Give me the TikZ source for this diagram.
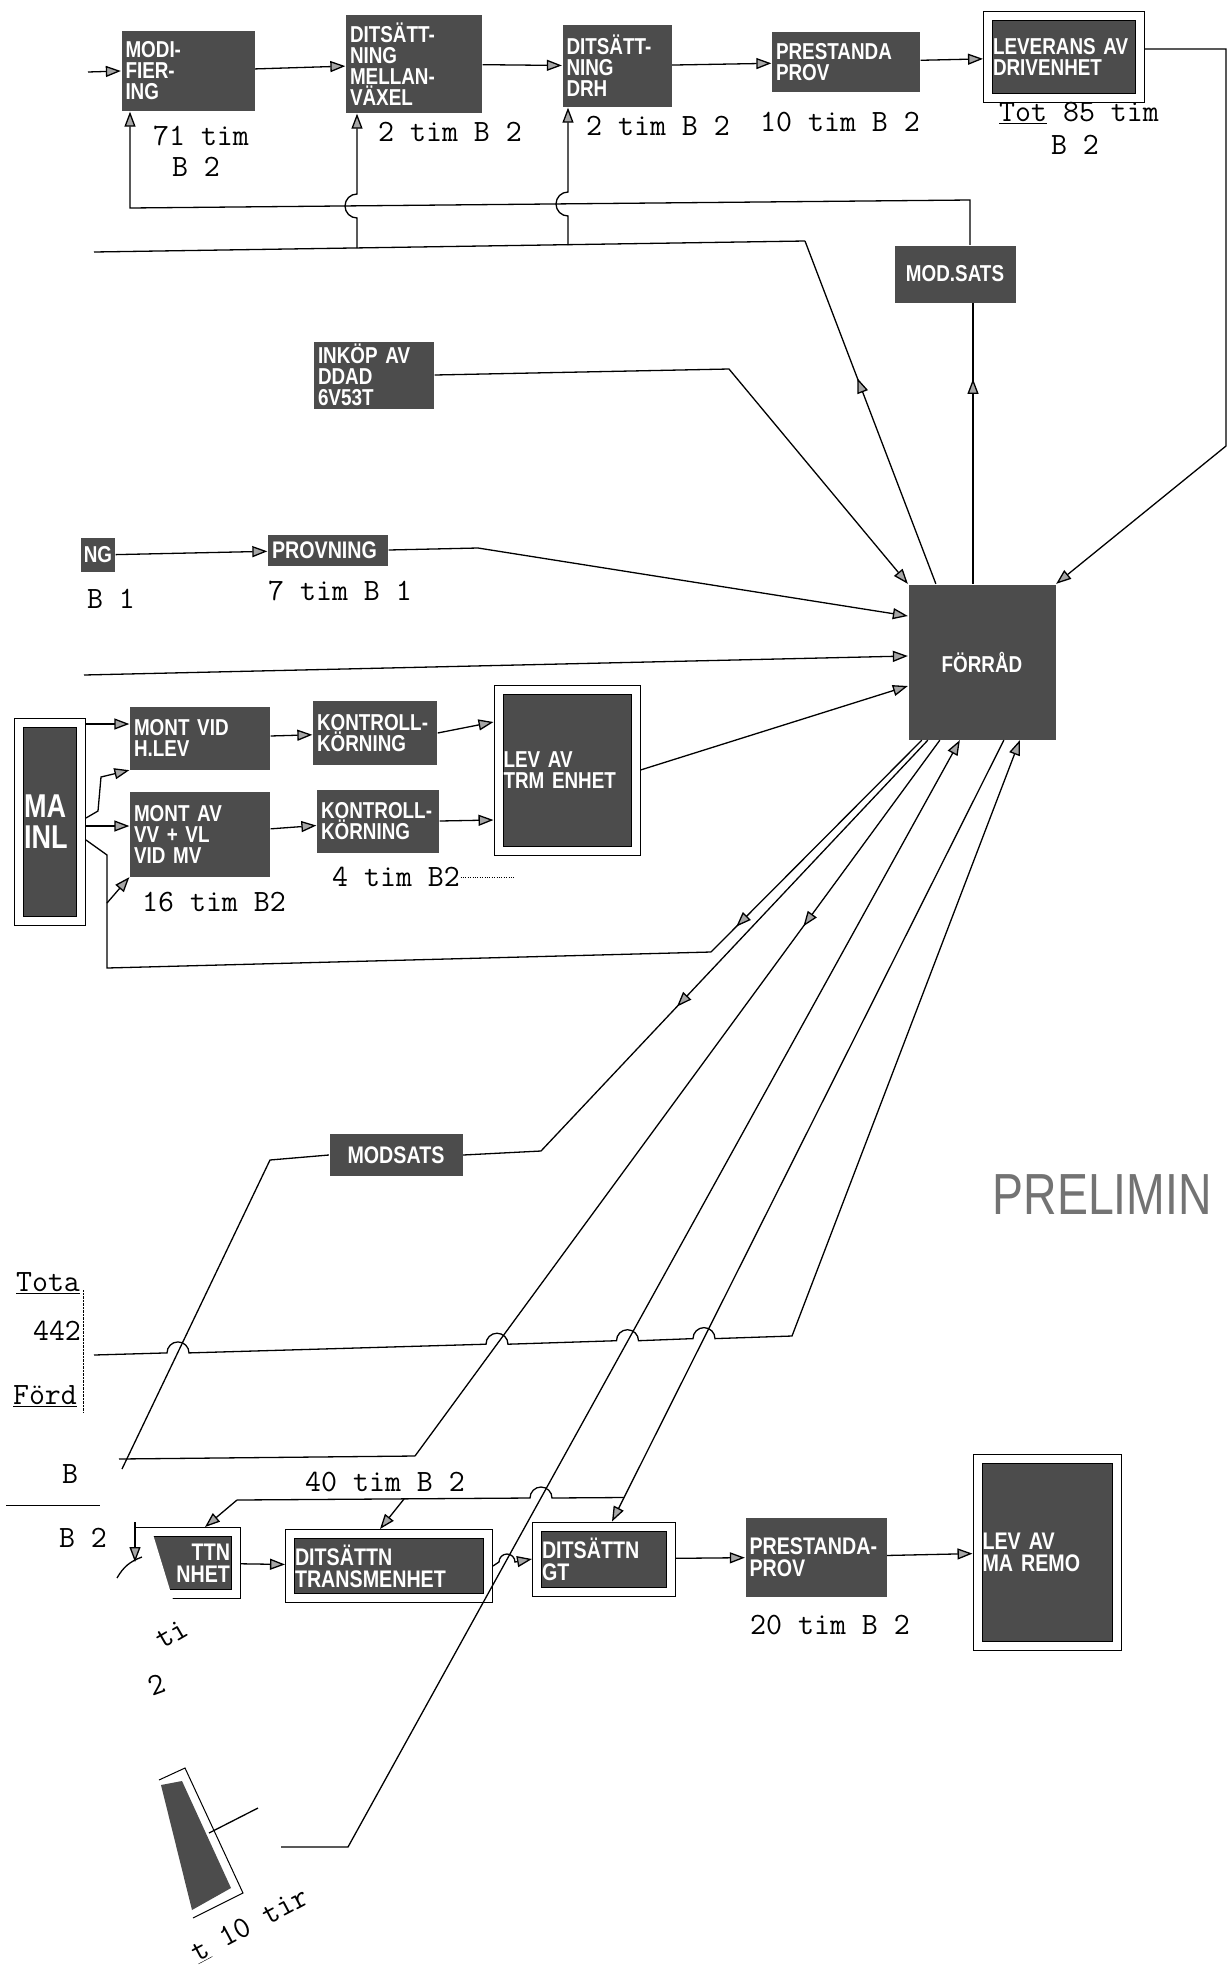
\documentclass[tikz,border=0pt]{standalone}
\usepackage{fontspec}
\newfontfamily\boxfont{Liberation Sans}[FakeStretch=0.82]
\newfontfamily\handfont{Liberation Sans}[FakeStretch=0.8]
\usetikzlibrary{arrows.meta,decorations.markings}

\begin{document}
\begin{tikzpicture}[x=1pt, y=-1pt, line width=1.3pt,
    box/.style={fill=black!70, text=white, align=left, inner sep=2pt,
      font=\boxfont\bfseries\fontsize{23}{21}\selectfont},
    nedre/.style={font=\boxfont\bfseries\fontsize{24}{22}\selectfont},
    ram/.style={box, draw=black, line width=1pt, double=white,
      double distance=8pt, outer sep=5pt},
    sz/.style 2 args={minimum width=#1pt, minimum height=#2pt, text width=#1pt-8pt},
    rsz/.style 2 args={minimum width=#1pt, minimum height=#2pt, text width=#1pt-10pt},
    pil/.style={-{Triangle[fill=black!35, length=15pt, width=11pt]}},
    mitt/.style={postaction={decorate}, decoration={markings,
      mark=at position #1 with {\arrow{Triangle[fill=black!35, length=15pt, width=11pt]}}}},
    tim/.style={inner sep=0pt, font=\ttfamily\fontsize{31}{34}\selectfont}]

  \useasboundingbox (0,0) rectangle (1230,1973);

  % övre raden
  \node[box, sz={133}{80}] (mod) at (188,71) {MODI-\\FIER-\\ING};
  \node[box, sz={136}{98}] (dmv) at (414,64) {DITSÄTT-\\NING\\MELLAN-\\VÄXEL};
  \node[box, sz={109}{82}] (drh) at (617,66) {DITSÄTT-\\NING\\DRH};
  \node[box, sz={148}{60}] (prp) at (846,62) {PRESTANDA\\PROV};
  \node[ram, rsz={152}{82}] (levd) at (1064,57) {LEVERANS AV\\DRIVENHET};

  \coordinate (inmod) at (88,72);
  \draw[pil] (inmod) -- (mod.west);
  \draw[pil] (mod) -- (dmv);
  \draw[pil] (dmv) -- (drh);
  \draw[pil] (drh) -- (prp);
  \draw[pil] (prp) -- (levd);

  \node[tim] (t71) at (201,136) {71 tim};
  \node[tim] (t71b) at (196,167) {B 2};
  \node[tim] (tdmv) at (450,132) {2 tim B 2};
  \node[tim] (tdrh) at (658,126) {2 tim B 2};
  \node[tim] (tprp) at (840,122) {10 tim B 2};
  \node[tim] (ttot) at (1079,113) {\underline{Tot} 85 tim};
  \node[tim] (ttotb) at (1075,145) {B 2};

  % förråd i mitten
  \node[box, sz={147}{155}, align=center] (forrad) at (982,662) {FÖRRÅD};
  \node[box, sz={121}{57}, align=center] (msats) at (955,274) {MOD.SATS};
  \node[box, sz={120}{67}] (ink) at (374,375) {INKÖP AV\\DDAD\\6V53T};

  % modsats tillbaka till modifiering
  \coordinate (hm) at (970,200);
  \coordinate (hk) at (130,208);
  \draw[pil] (hm |- msats.north) -- (hm) -- (hk) -- (hk |- mod.south);
  \coordinate (ms) at (973,0);
  \draw[mitt=0.73] (ms |- forrad.north) -- (ms |- msats.south);

  % från förråd upp till ditsättning
  \coordinate (ov) at (805,241);
  \draw[mitt=0.6] ([xshift=28pt]forrad.north west) -- (ov);
  \draw (ov) -- (94,252);
  \coordinate (v1) at (357,248);
  \coordinate (v2) at (568,245);
  \draw[pil] (v1) -- ++(0,-30) arc[start angle=270, end angle=90, radius=12pt] -- (v1 |- dmv.south);
  \draw[pil] (v2) -- ++(0,-29) arc[start angle=270, end angle=90, radius=12pt] -- (v2 |- drh.south);

  \draw[pil] (ink.east) -- (729,369) -- (forrad.north west);
  \draw[pil] ([yshift=8pt]levd.east) -- (1226,49) -- (1226,446) -- (forrad.north east);

  % provning
  \node[box, sz={32}{34}, text width=30pt, align=center] (ng) at (98,555) {NG};
  \node[box, nedre, sz={120}{31}] (prv) at (328,550) {PROVNING};
  \draw[pil] (ng) -- (prv);
  \draw[pil] (prv.east) -- (478,548) -- ([yshift=46pt]forrad.west);
  \node[tim] (tb1) at (111,599) {B 1};
  \node[tim] (tprv) at (340,591) {7 tim B 1};

  \coordinate (lang) at (84,675);
  \draw[pil] (lang) -- ([yshift=6pt]forrad.west);

  % montering
  \node[ram, rsz={62}{198}, font=\boxfont\bfseries\fontsize{33}{31}\selectfont] (ma) at (50,822) {MA\\INL};
  \node[box, sz={140}{63}] (mvid) at (200,738) {MONT VID\\H.LEV};
  \node[box, sz={124}{64}] (k1) at (375,733) {KONTROLL-\\KÖRNING};
  \node[box, sz={122}{63}] (k2) at (378,821) {KONTROLL-\\KÖRNING};
  \node[box, sz={140}{85}] (mav) at (200,834) {MONT AV\\VV + VL\\VID MV};
  \node[ram, rsz={137}{161}] (ltrm) at (567,770) {LEV AV\\TRM ENHET};

  \draw[pil] ([yshift=98pt]ma.east) -- ([yshift=14pt]mvid.west);
  \draw[pil] ([yshift=-4pt]ma.east) -- ([yshift=8pt]mav.west);
  \draw[pil] ([yshift=4pt]ma.east) -- (98,811) -- (101,777) -- (mvid.south west);
  \draw[pil] (mvid) -- (k1);
  \draw[pil] (mav) -- (k2);
  \draw[pil] (k1.east) -- ([yshift=48pt]ltrm.west);
  \draw[pil] (k2.east) -- ([yshift=-50pt]ltrm.west);
  \draw[pil] (ltrm.east) -- ([yshift=-24pt]forrad.west);

  \coordinate (m1) at (711,952);
  \coordinate (m2) at (107,968);
  \coordinate (m3) at (107,903);
  \draw[mitt=0.88] ([xshift=14pt]forrad.south west) -- (m1);
  \draw[pil] (m1) -- (m2) -- (m3) -- (mav.south west);
  \draw ([yshift=-18pt]ma.east) -- (107,855) -- (m3);

  \node[tim] (t16) at (214,902) {16 tim B2};
  \node[tim] (t4) at (396,877) {4 tim B2};
  \draw[thin, dotted] (t4.east) -- ++(55,0);

  % nedre delen
  \node[box, nedre, sz={133}{42}, align=center] (mods) at (396,1155) {MODSATS};
  \draw[mitt=0.57] ([xshift=20pt]forrad.south west) -- (541,1151) -- (mods.east);
  \draw (mods.west) -- (270,1160) -- (122,1469);

  \coordinate (bk) at (415,1456);
  \draw[mitt=0.26] ([xshift=32pt]forrad.south west) -- (bk);
  \draw (bk) -- (119,1459);

  \draw[pil] (94,1355) -- (167,1352.9) arc[start angle=180, end angle=0, radius=11pt]
    -- (486,1344.2) arc[start angle=180, end angle=0, radius=11pt]
    -- (616.5,1340.7) arc[start angle=180, end angle=0, radius=11pt]
    -- (693,1338.6) arc[start angle=180, end angle=0, radius=11pt]
    -- (792,1336) -- ([xshift=112pt]forrad.south west);

  \node[ram, nedre, rsz={96}{62}, text width=84pt, align=right] (enh) at (188,1563) {TTN\\NHET};
  \fill[white] (133,1531) -- (152,1531) -- (174,1603) -- (133,1603) -- cycle;
  \node[ram, nedre, rsz={198}{64}] (tm) at (389,1566) {DITSÄTTN\\TRANSMENHET};
  \node[ram, nedre, rsz={134}{65}] (gt) at (604,1559) {DITSÄTTN\\GT};
  \node[box, nedre, sz={141}{79}] (pp) at (816,1557) {PRESTANDA-\\PROV};
  \node[ram, nedre, rsz={139}{187}] (lma) at (1047,1552) {LEV AV\\MA REMO};

  \coordinate (dk) at (348,1847);
  \draw[pil] (281,1847) -- (dk) -- ([xshift=52pt]forrad.south west);
  \coordinate (ej) at (624,1497.5);
  \draw[pil] ([xshift=96pt]forrad.south west) -- ([xshift=8pt]gt.north);
  \draw (ej) -- (552,1498) arc[start angle=0, end angle=180, radius=11pt] -- (237,1500);
  \draw[pil] (237,1500) -- ([xshift=17pt]enh.north);
  \draw[pil] (404,1499) -- ([xshift=-9pt]tm.north);

  \draw[pil] (enh) -- (tm);
  \draw[pil] (tm.east) -- (499,1562) arc[start angle=180, end angle=0, radius=8pt] -- (gt.west);
  \draw[pil] (gt) -- (pp);
  \draw[pil] (pp) -- (lma);

  \node[tim] (t40) at (385,1482) {40 tim B 2};
  \node[tim] (t20) at (830,1625) {20 tim B 2};

  % vänsterkanten
  \node[tim] (tota) at (48,1283) {\underline{Tota}};
  \node[tim] (t442) at (57,1331) {442};
  \node[tim] (ford) at (45,1396) {\underline{Förd}};
  \draw[thin, densely dotted] (83,1290) -- (83,1412);
  \node[tim] (tb) at (70,1474) {B};
  \draw[thin] (6,1505) -- (100,1505);
  \node[tim] (tb2) at (83,1538) {B 2};
  \draw[pil] (135,1522) -- (135,1562);
  \draw (117,1578) to[bend left=20] (142,1557);

  \node[tim, rotate=30] (tti) at (172,1634) {ti};
  \node[tim, rotate=20] (tti2) at (157,1685) {2};
  \node[tim, rotate=28] (t10) at (250,1925) {\underline{t} 10 tir};

  % snett blad
  \fill[black!70] (161,1785) -- (182,1781) -- (231,1888) -- (192,1910) -- cycle;
  \draw[line width=1pt] (159,1780) -- (185,1768) -- (243,1893) -- (193,1918);
  \draw (209,1833) -- (258,1808);

  \node[anchor=west, text=black!55, inner sep=0pt,
    font=\handfont\fontsize{58}{58}\selectfont] (prel) at (992,1195) {PRELIMIN};
\end{tikzpicture}
\end{document}
